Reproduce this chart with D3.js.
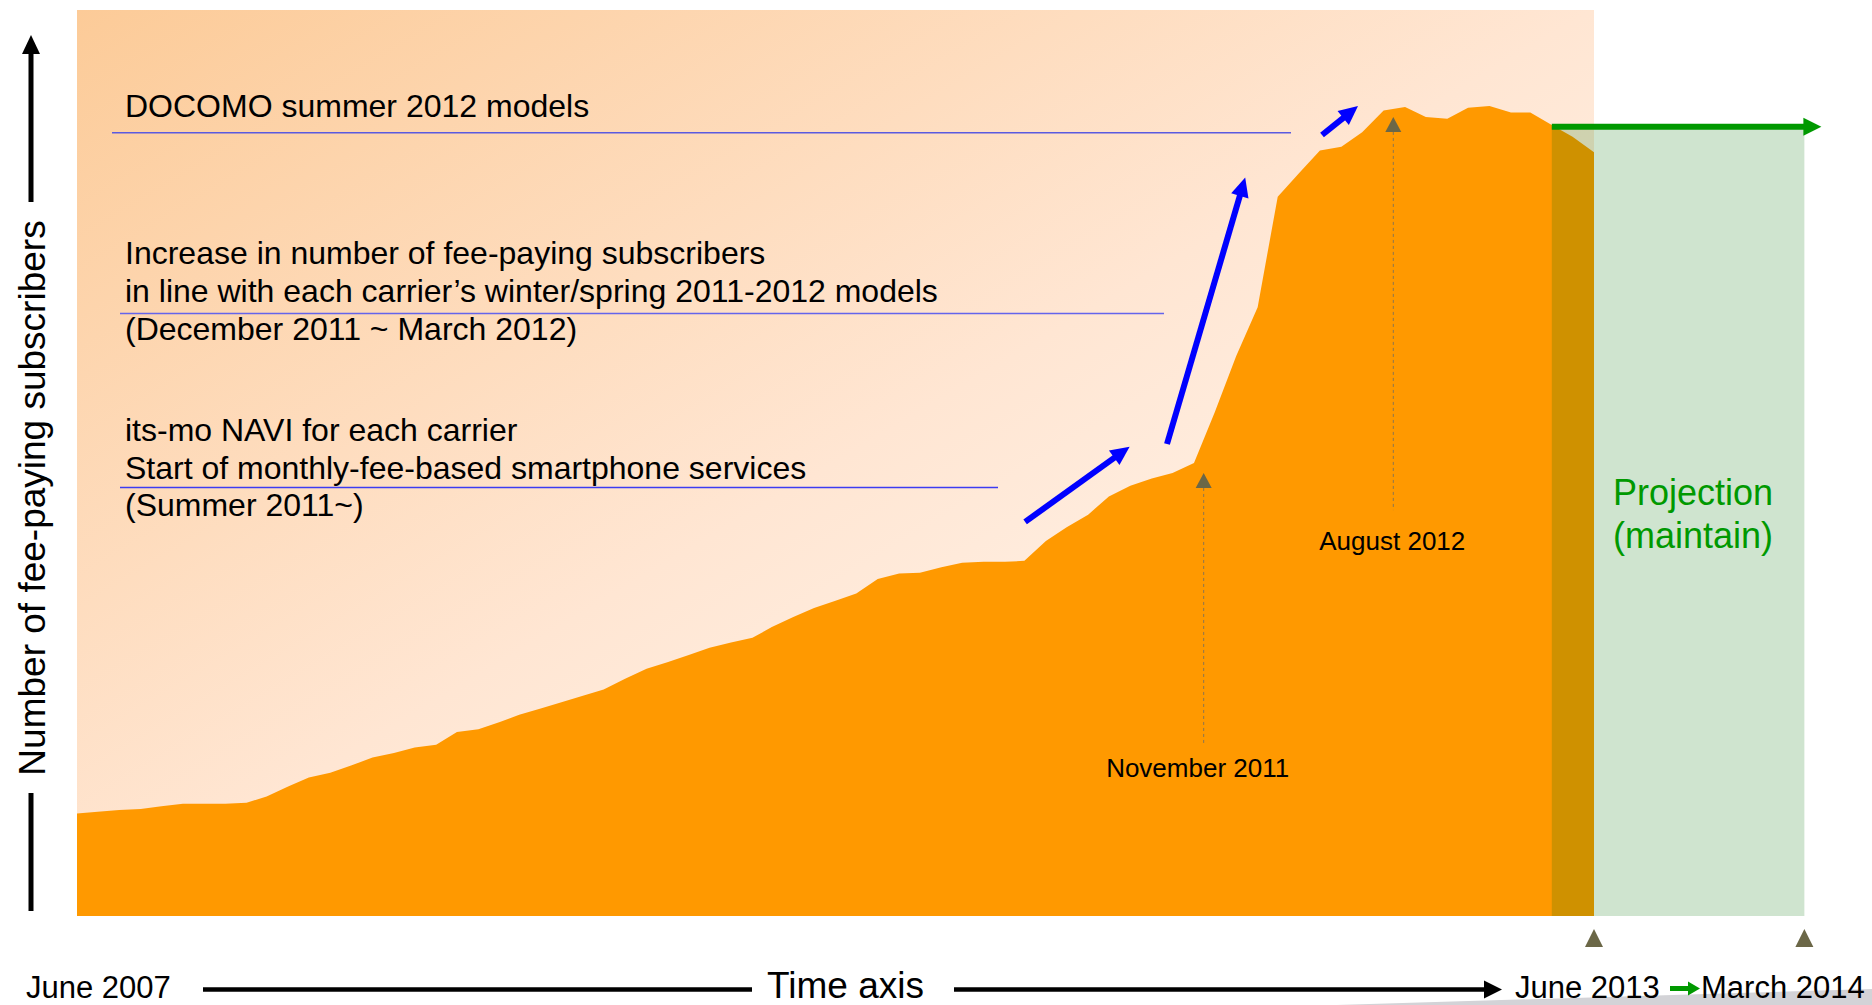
<!DOCTYPE html>
<html><head><meta charset="utf-8">
<script src="https://cdn.jsdelivr.net/npm/d3@7"></script>
<style>
html,body{margin:0;padding:0;background:#fff;}
svg{display:block;font-family:"Liberation Sans",Arial,Helvetica,sans-serif;}
</style>
</head><body>
<svg id="chart" width="1872" height="1005"></svg>
<script>
// ================= DATA =================
// Monthly index of fee-paying subscribers (relative scale 0-100), June 2007 .. June 2013
const seriesStart = "2007-06-01";
const seriesEnd = "2013-06-01";
const subscriberIndex = [
  11.3, 11.5, 11.7, 11.8, 12.1, 12.4, 12.4, 12.4, 12.5, 13.2,
  14.3, 15.3, 15.8, 16.6, 17.5, 18.0, 18.6, 18.9, 20.3, 20.6,
  21.4, 22.2, 22.9, 23.6, 24.3, 25.0, 26.2, 27.3, 28.0, 28.8,
  29.6, 30.2, 30.7, 31.9, 33.0, 34.0, 34.8, 35.6, 37.2, 37.8,
  37.9, 38.5, 39.0, 39.1, 39.1, 39.2, 41.4, 42.9, 44.3, 46.3,
  47.5, 48.3, 48.9, 50.0, 55.6, 61.8, 67.2, 79.4, 82.0, 84.5,
  84.9, 86.5, 88.9, 89.3, 88.2, 88.0, 89.2, 89.4, 88.7, 88.7,
  87.3, 86.0, 84.3
];
// Projection (maintain)
const projectionStart = "2013-04-01";
const projectionEnd = "2014-04-01";
const projectionLevel = 87.1;
const projectionLabel = ["Projection", "(maintain)"];
// Event markers
const eventDates = ["2011-11-15", "2012-08-15"];
const eventLabels = ["November 2011", "August 2012"];
// Period markers under the time axis
const periodMarkerDates = ["2013-06-01", "2014-04-01"];
// Trend arrows [fromDate, fromValue, toDate, toValue]
const trendArrowFrom = [["2011-03-02", 43.5], ["2011-09-23", 52.1], ["2012-05-04", 86.2]];
const trendArrowTo   = [["2011-07-31", 51.8], ["2012-01-14", 81.5], ["2012-06-25", 89.4]];
// Annotation texts
const noteDocomo = ["DOCOMO summer 2012 models"];
const noteWinter = ["Increase in number of fee-paying subscribers",
                    "in line with each carrier\u2019s winter/spring 2011-2012 models",
                    "(December 2011 ~ March 2012)"];
const noteSummer = ["its-mo NAVI for each carrier",
                    "Start of monthly-fee-based smartphone services",
                    "(Summer 2011~)"];
// Axis texts
const yAxisTitle = "Number of fee-paying subscribers";
const xAxisTitle = "Time axis";
const timeTickLabels = ["June 2007", "June 2013", "March 2014"];

// ================= LAYOUT =================
const W = 1872, H = 1005;
const plot = {left: 77, right: 1594, top: 10, bottom: 916};
const parse = d3.utcParse("%Y-%m-%d");

const x = d3.scaleUtc().domain([parse(seriesStart), parse(seriesEnd)]).range([plot.left, plot.right]);
const y = d3.scaleLinear().domain([0, 100]).range([plot.bottom, plot.top]);

const months = d3.utcMonth.range(parse(seriesStart), d3.utcMonth.offset(parse(seriesEnd), 1));
const series = months.map((d, i) => ({date: d, value: subscriberIndex[i]}));

const svg = d3.select("#chart");
const defs = svg.append("defs");
const grad = defs.append("linearGradient").attr("id", "bg")
  .attr("x1", 0).attr("y1", 0).attr("x2", 1).attr("y2", 1);
grad.append("stop").attr("offset", 0).attr("stop-color", "#FCCB98");
grad.append("stop").attr("offset", 0.5).attr("stop-color", "#FFE6D3");
grad.append("stop").attr("offset", 1).attr("stop-color", "#FFFCF9");

// decorative page-shadow wedge at bottom right
svg.append("path").attr("d", `M${W*0.714},${H} L${W},${H-16} L${W},${H} Z`).attr("fill", "#D3D3D7");

// plot background
svg.append("rect").attr("x", plot.left).attr("y", plot.top)
  .attr("width", plot.right - plot.left).attr("height", plot.bottom - plot.top)
  .attr("fill", "url(#bg)");

// area
const area = d3.area().x(d => x(d.date)).y0(y(0)).y1(d => y(d.value)).curve(d3.curveLinear);
svg.append("path").datum(series).attr("d", area).attr("fill", "#FF9900");

// projection overlay
const px0 = x(parse(projectionStart)), px1 = x(parse(projectionEnd));
svg.append("rect").attr("x", px0).attr("y", y(projectionLevel))
  .attr("width", px1 - px0).attr("height", y(0) - y(projectionLevel))
  .attr("fill", "#007000").attr("fill-opacity", 0.19);

// helper: arrow
function arrow(g, x1, y1, x2, y2, color, width, headLen, headHalf) {
  const dx = x2 - x1, dy = y2 - y1, len = Math.hypot(dx, dy);
  const ux = dx / len, uy = dy / len, nx = -uy, ny = ux;
  const bx = x2 - ux * headLen, by = y2 - uy * headLen;
  g.append("line").attr("x1", x1).attr("y1", y1)
    .attr("x2", x2 - ux * headLen * 0.8).attr("y2", y2 - uy * headLen * 0.8)
    .attr("stroke", color).attr("stroke-width", width);
  g.append("path").attr("d", `M${x2},${y2} L${bx + nx*headHalf},${by + ny*headHalf} L${bx - nx*headHalf},${by - ny*headHalf} Z`)
    .attr("fill", color);
}

// green projection arrow
arrow(svg, px0, y(projectionLevel), px1 + 17, y(projectionLevel), "#009900", 6, 18, 9);

// projection label
svg.append("g").selectAll("text").data(projectionLabel).join("text")
  .attr("x", 1693).attr("y", (d, i) => 505 + i * 43)
  .attr("text-anchor", "middle").attr("font-size", 36).attr("fill", "#009900").text(d => d);

// trend arrows
trendArrowFrom.forEach((f, i) => {
  const t = trendArrowTo[i];
  arrow(svg, x(parse(f[0])), y(f[1]), x(parse(t[0])), y(t[1]), "#0000FF", 6, 19, 9);
});

// event markers
const markerColor = "#6B6747";
const eventLayout = [{apex: 48.9, lineEnd: 19.1, labelBase: 15.3, dx: -6},
                     {apex: 88.2, lineEnd: 44.8, labelBase: 40.4, dx: -1}];
eventDates.forEach((d, i) => {
  const ex = x(parse(d)), L = eventLayout[i];
  const ay = y(L.apex);
  svg.append("line").attr("x1", ex).attr("x2", ex).attr("y1", ay + 15).attr("y2", y(L.lineEnd))
    .attr("stroke", "#8A7650").attr("stroke-width", 1).attr("stroke-dasharray", "3,3");
  svg.append("path").attr("d", `M${ex},${ay} L${ex-8},${ay+15} L${ex+8},${ay+15} Z`).attr("fill", markerColor);
  svg.append("text").attr("x", ex + L.dx).attr("y", y(L.labelBase)).attr("text-anchor", "middle")
    .attr("font-size", 26).attr("fill", "#000").text(eventLabels[i]);
});

// period markers below plot
periodMarkerDates.forEach(d => {
  const mx = x(parse(d));
  svg.append("path").attr("d", `M${mx},929 L${mx-9},947 L${mx+9},947 Z`).attr("fill", markerColor);
});

// annotation notes
function note(lines, x0, base0, step, underlineY, ux0, ux1, ucolor) {
  svg.append("g").selectAll("text").data(lines).join("text")
    .attr("x", x0).attr("y", (d, i) => base0 + i * step)
    .attr("font-size", 32).attr("fill", "#000").text(d => d);
  svg.append("line").attr("x1", ux0).attr("x2", ux1).attr("y1", underlineY).attr("y2", underlineY)
    .attr("stroke", ucolor).attr("stroke-width", 1.5);
}
note(noteDocomo, 125, 117, 38, 132.7, 112, 1291, "#5A5AE0");
note(noteWinter, 125, 264, 38, 313.5, 120, 1164, "#6464EC");
note(noteSummer, 125, 441, 37.5, 487.5, 120, 998, "#3C3CF2");

// y axis arrow + title
svg.append("line").attr("x1", 31).attr("x2", 31).attr("y1", 50).attr("y2", 202).attr("stroke", "#000").attr("stroke-width", 5);
svg.append("path").attr("d", "M31,35 L22,54 L40,54 Z").attr("fill", "#000");
svg.append("line").attr("x1", 31).attr("x2", 31).attr("y1", 793).attr("y2", 911).attr("stroke", "#000").attr("stroke-width", 5);
svg.append("text").attr("transform", "translate(45,498) rotate(-90)").attr("text-anchor", "middle")
  .attr("font-size", 37).attr("fill", "#000").text(yAxisTitle);

// time axis
const axisY = 989.5, textBase = 998;
svg.append("text").attr("x", 26).attr("y", textBase).attr("font-size", 31).text(timeTickLabels[0]);
svg.append("line").attr("x1", 203).attr("x2", 752).attr("y1", axisY).attr("y2", axisY).attr("stroke", "#000").attr("stroke-width", 4.5);
svg.append("text").attr("x", 767).attr("y", textBase).attr("font-size", 37).text(xAxisTitle);
arrow(svg, 954, axisY, 1502, axisY, "#000", 4.5, 18, 9);
svg.append("text").attr("x", 1515).attr("y", textBase).attr("font-size", 31).text(timeTickLabels[1]);
arrow(svg, 1670, axisY - 1, 1700, axisY - 1, "#009900", 5, 12, 7);
svg.append("text").attr("x", 1701).attr("y", textBase).attr("font-size", 31).text(timeTickLabels[2]);
</script>
</body></html>
